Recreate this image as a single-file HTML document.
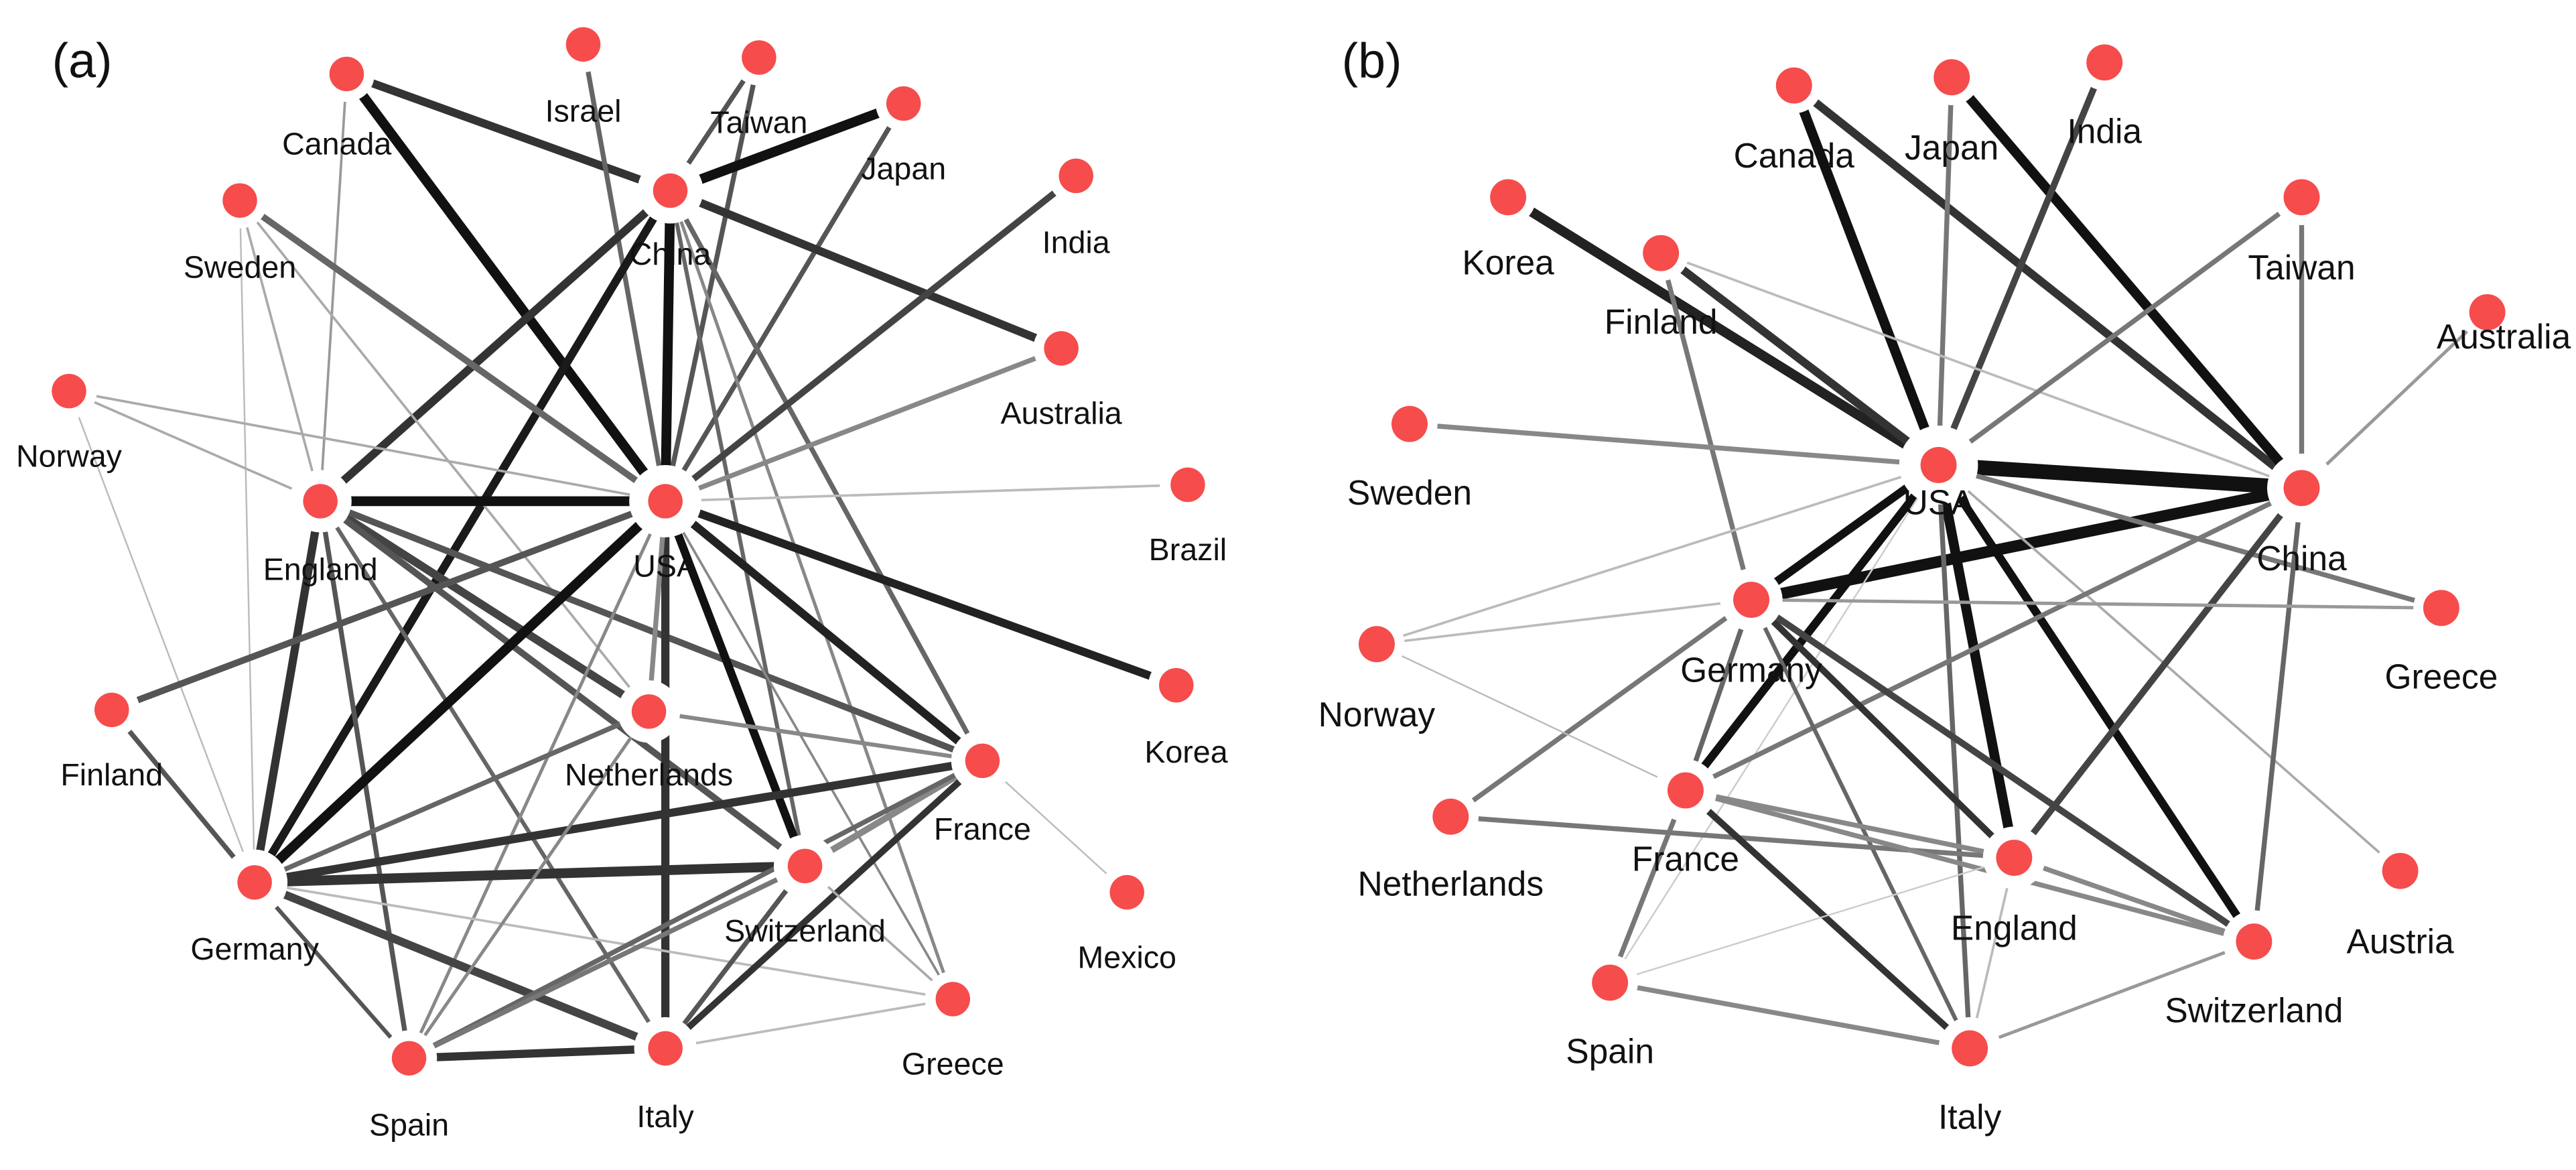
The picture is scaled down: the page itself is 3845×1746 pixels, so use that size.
<!DOCTYPE html>
<html><head><meta charset="utf-8"><style>
html,body{margin:0;padding:0;background:#fff;}
svg{display:block;}
text{font-family:"Liberation Sans",sans-serif;fill:#111;text-anchor:middle;}
</style></head><body>
<svg width="3845" height="1746" viewBox="0 0 1568 712" xmlns="http://www.w3.org/2000/svg">
<g stroke-linecap="butt">
<!-- (a) edges -->
<line x1="211" y1="45" x2="405" y2="305" stroke="#111" stroke-width="6"/>
<line x1="211" y1="45" x2="408" y2="116" stroke="#333" stroke-width="5"/>
<line x1="211" y1="45" x2="195" y2="305" stroke="#999" stroke-width="1.5"/>
<line x1="355" y1="27" x2="405" y2="305" stroke="#666" stroke-width="3"/>
<line x1="462" y1="35" x2="408" y2="116" stroke="#555" stroke-width="3"/>
<line x1="462" y1="35" x2="405" y2="305" stroke="#555" stroke-width="3"/>
<line x1="550" y1="63" x2="408" y2="116" stroke="#111" stroke-width="6"/>
<line x1="550" y1="63" x2="405" y2="305" stroke="#555" stroke-width="3"/>
<line x1="408" y1="116" x2="646" y2="212" stroke="#333" stroke-width="5"/>
<line x1="408" y1="116" x2="405" y2="305" stroke="#111" stroke-width="6"/>
<line x1="408" y1="116" x2="195" y2="305" stroke="#333" stroke-width="5"/>
<line x1="408" y1="116" x2="155" y2="537" stroke="#1a1a1a" stroke-width="5"/>
<line x1="408" y1="116" x2="598" y2="463" stroke="#666" stroke-width="3"/>
<line x1="408" y1="116" x2="580" y2="608" stroke="#888" stroke-width="2"/>
<line x1="408" y1="116" x2="490" y2="527" stroke="#666" stroke-width="2.5"/>
<line x1="655" y1="107" x2="405" y2="305" stroke="#444" stroke-width="4"/>
<line x1="146" y1="122" x2="405" y2="305" stroke="#666" stroke-width="4"/>
<line x1="146" y1="122" x2="195" y2="305" stroke="#aaa" stroke-width="1.5"/>
<line x1="146" y1="122" x2="395" y2="433" stroke="#aaa" stroke-width="1.5"/>
<line x1="146" y1="122" x2="155" y2="537" stroke="#bbb" stroke-width="1"/>
<line x1="646" y1="212" x2="405" y2="305" stroke="#888" stroke-width="3"/>
<line x1="42" y1="238" x2="405" y2="305" stroke="#aaa" stroke-width="1.5"/>
<line x1="42" y1="238" x2="195" y2="305" stroke="#aaa" stroke-width="1.5"/>
<line x1="42" y1="238" x2="155" y2="537" stroke="#bbb" stroke-width="1"/>
<line x1="195" y1="305" x2="405" y2="305" stroke="#111" stroke-width="6"/>
<line x1="195" y1="305" x2="155" y2="537" stroke="#333" stroke-width="5"/>
<line x1="195" y1="305" x2="395" y2="433" stroke="#444" stroke-width="5"/>
<line x1="195" y1="305" x2="490" y2="527" stroke="#555" stroke-width="4"/>
<line x1="195" y1="305" x2="598" y2="463" stroke="#555" stroke-width="4"/>
<line x1="195" y1="305" x2="249" y2="644" stroke="#555" stroke-width="3"/>
<line x1="195" y1="305" x2="405" y2="638" stroke="#666" stroke-width="2.5"/>
<line x1="405" y1="305" x2="723" y2="295" stroke="#bbb" stroke-width="1.5"/>
<line x1="405" y1="305" x2="716" y2="417" stroke="#222" stroke-width="5"/>
<line x1="405" y1="305" x2="68" y2="432" stroke="#555" stroke-width="4"/>
<line x1="405" y1="305" x2="155" y2="537" stroke="#111" stroke-width="6"/>
<line x1="405" y1="305" x2="490" y2="527" stroke="#111" stroke-width="5"/>
<line x1="405" y1="305" x2="598" y2="463" stroke="#222" stroke-width="5"/>
<line x1="405" y1="305" x2="405" y2="638" stroke="#333" stroke-width="5"/>
<line x1="405" y1="305" x2="395" y2="433" stroke="#888" stroke-width="3"/>
<line x1="405" y1="305" x2="249" y2="644" stroke="#888" stroke-width="2"/>
<line x1="405" y1="305" x2="580" y2="608" stroke="#888" stroke-width="1.5"/>
<line x1="68" y1="432" x2="155" y2="537" stroke="#555" stroke-width="3"/>
<line x1="155" y1="537" x2="598" y2="463" stroke="#333" stroke-width="5"/>
<line x1="155" y1="537" x2="490" y2="527" stroke="#333" stroke-width="6"/>
<line x1="155" y1="537" x2="395" y2="433" stroke="#666" stroke-width="3"/>
<line x1="155" y1="537" x2="405" y2="638" stroke="#444" stroke-width="5"/>
<line x1="155" y1="537" x2="249" y2="644" stroke="#555" stroke-width="2.5"/>
<line x1="155" y1="537" x2="580" y2="608" stroke="#bbb" stroke-width="1.5"/>
<line x1="395" y1="433" x2="598" y2="463" stroke="#888" stroke-width="2.5"/>
<line x1="395" y1="433" x2="249" y2="644" stroke="#888" stroke-width="2"/>
<line x1="598" y1="463" x2="490" y2="527" stroke="#888" stroke-width="4"/>
<line x1="598" y1="463" x2="405" y2="638" stroke="#333" stroke-width="4"/>
<line x1="598" y1="463" x2="249" y2="644" stroke="#666" stroke-width="3"/>
<line x1="598" y1="463" x2="686" y2="543" stroke="#bbb" stroke-width="1"/>
<line x1="490" y1="527" x2="249" y2="644" stroke="#777" stroke-width="3"/>
<line x1="490" y1="527" x2="405" y2="638" stroke="#555" stroke-width="3"/>
<line x1="490" y1="527" x2="580" y2="608" stroke="#aaa" stroke-width="1.5"/>
<line x1="249" y1="644" x2="405" y2="638" stroke="#333" stroke-width="5"/>
<line x1="405" y1="638" x2="580" y2="608" stroke="#bbb" stroke-width="1.5"/>
<!-- (b) edges -->
<line x1="1092" y1="52" x2="1180" y2="283" stroke="#111" stroke-width="6"/>
<line x1="1092" y1="52" x2="1401" y2="297" stroke="#333" stroke-width="5"/>
<line x1="1188" y1="47" x2="1180" y2="283" stroke="#777" stroke-width="3"/>
<line x1="1188" y1="47" x2="1401" y2="297" stroke="#111" stroke-width="6"/>
<line x1="1281" y1="38" x2="1180" y2="283" stroke="#444" stroke-width="4"/>
<line x1="918" y1="120" x2="1180" y2="283" stroke="#222" stroke-width="6"/>
<line x1="1011" y1="154" x2="1180" y2="283" stroke="#333" stroke-width="5"/>
<line x1="1011" y1="154" x2="1066" y2="365" stroke="#777" stroke-width="3"/>
<line x1="1011" y1="154" x2="1401" y2="297" stroke="#bbb" stroke-width="1.5"/>
<line x1="1401" y1="120" x2="1180" y2="283" stroke="#777" stroke-width="3"/>
<line x1="1401" y1="120" x2="1401" y2="297" stroke="#777" stroke-width="3"/>
<line x1="1514" y1="190" x2="1401" y2="297" stroke="#999" stroke-width="2"/>
<line x1="858" y1="258" x2="1180" y2="283" stroke="#888" stroke-width="3"/>
<line x1="1180" y1="283" x2="1401" y2="297" stroke="#111" stroke-width="9"/>
<line x1="1066" y1="365" x2="1401" y2="297" stroke="#111" stroke-width="7"/>
<line x1="1180" y1="283" x2="1486" y2="370" stroke="#777" stroke-width="3"/>
<line x1="1180" y1="283" x2="1066" y2="365" stroke="#111" stroke-width="5"/>
<line x1="1180" y1="283" x2="1026" y2="481" stroke="#111" stroke-width="5"/>
<line x1="1180" y1="283" x2="1226" y2="522" stroke="#111" stroke-width="6"/>
<line x1="1180" y1="283" x2="1372" y2="573" stroke="#111" stroke-width="5"/>
<line x1="1180" y1="283" x2="1199" y2="638" stroke="#666" stroke-width="3"/>
<line x1="1180" y1="283" x2="838" y2="392" stroke="#bbb" stroke-width="1.5"/>
<line x1="1180" y1="283" x2="980" y2="598" stroke="#ccc" stroke-width="1"/>
<line x1="1180" y1="283" x2="1461" y2="530" stroke="#aaa" stroke-width="1.5"/>
<line x1="1401" y1="297" x2="1026" y2="481" stroke="#777" stroke-width="3"/>
<line x1="1401" y1="297" x2="1226" y2="522" stroke="#444" stroke-width="4"/>
<line x1="1401" y1="297" x2="1372" y2="573" stroke="#666" stroke-width="3"/>
<line x1="883" y1="497" x2="1066" y2="365" stroke="#777" stroke-width="3"/>
<line x1="1066" y1="365" x2="1486" y2="370" stroke="#999" stroke-width="2"/>
<line x1="838" y1="392" x2="1066" y2="365" stroke="#bbb" stroke-width="1.5"/>
<line x1="838" y1="392" x2="1026" y2="481" stroke="#bbb" stroke-width="1"/>
<line x1="1066" y1="365" x2="1026" y2="481" stroke="#666" stroke-width="3"/>
<line x1="1066" y1="365" x2="1226" y2="522" stroke="#333" stroke-width="4"/>
<line x1="1066" y1="365" x2="1372" y2="573" stroke="#444" stroke-width="4"/>
<line x1="1066" y1="365" x2="1199" y2="638" stroke="#666" stroke-width="2.5"/>
<line x1="980" y1="598" x2="1026" y2="481" stroke="#777" stroke-width="3"/>
<line x1="883" y1="497" x2="1226" y2="522" stroke="#777" stroke-width="3"/>
<line x1="1026" y1="481" x2="1226" y2="522" stroke="#888" stroke-width="3"/>
<line x1="1026" y1="481" x2="1372" y2="573" stroke="#888" stroke-width="3"/>
<line x1="1026" y1="481" x2="1199" y2="638" stroke="#333" stroke-width="4"/>
<line x1="980" y1="598" x2="1226" y2="522" stroke="#ccc" stroke-width="1"/>
<line x1="980" y1="598" x2="1199" y2="638" stroke="#888" stroke-width="3"/>
<line x1="1226" y1="522" x2="1372" y2="573" stroke="#888" stroke-width="3"/>
<line x1="1226" y1="522" x2="1199" y2="638" stroke="#bbb" stroke-width="1.5"/>
<line x1="1199" y1="638" x2="1372" y2="573" stroke="#999" stroke-width="2"/>
</g>
<g fill="#fff">
<circle cx="211" cy="45" r="17"/><circle cx="355" cy="27" r="17"/><circle cx="462" cy="35" r="17"/><circle cx="550" cy="63" r="17"/><circle cx="408" cy="116" r="20"/><circle cx="655" cy="107" r="17"/><circle cx="146" cy="122" r="17"/><circle cx="646" cy="212" r="17"/><circle cx="42" cy="238" r="17"/><circle cx="195" cy="305" r="19"/><circle cx="405" cy="305" r="22"/><circle cx="723" cy="295" r="17"/><circle cx="68" cy="432" r="17"/><circle cx="395" cy="433" r="19"/><circle cx="716" cy="417" r="17"/><circle cx="598" cy="463" r="19"/><circle cx="490" cy="527" r="19"/><circle cx="686" cy="543" r="17"/><circle cx="155" cy="537" r="20"/><circle cx="580" cy="608" r="17"/><circle cx="249" cy="644" r="17"/><circle cx="405" cy="638" r="19"/>
<circle cx="1092" cy="52" r="17"/><circle cx="1188" cy="47" r="17"/><circle cx="1281" cy="38" r="17"/><circle cx="918" cy="120" r="17"/><circle cx="1401" cy="120" r="17"/><circle cx="1011" cy="154" r="17"/><circle cx="1514" cy="190" r="17"/><circle cx="858" cy="258" r="17"/><circle cx="1180" cy="283" r="24"/><circle cx="1401" cy="297" r="21"/><circle cx="1066" cy="365" r="19"/><circle cx="1486" cy="370" r="17"/><circle cx="838" cy="392" r="17"/><circle cx="1026" cy="481" r="19"/><circle cx="883" cy="497" r="17"/><circle cx="1226" cy="522" r="19"/><circle cx="1461" cy="530" r="17"/><circle cx="1372" cy="573" r="19"/><circle cx="980" cy="598" r="17"/><circle cx="1199" cy="638" r="19"/>
</g>
<g fill="#f64c4c">
<circle cx="211" cy="45" r="10.5"/><circle cx="355" cy="27" r="10.5"/><circle cx="462" cy="35" r="10.5"/><circle cx="550" cy="63" r="10.5"/><circle cx="408" cy="116" r="10.5"/><circle cx="655" cy="107" r="10.5"/><circle cx="146" cy="122" r="10.5"/><circle cx="646" cy="212" r="10.5"/><circle cx="42" cy="238" r="10.5"/><circle cx="195" cy="305" r="10.5"/><circle cx="405" cy="305" r="10.5"/><circle cx="723" cy="295" r="10.5"/><circle cx="68" cy="432" r="10.5"/><circle cx="395" cy="433" r="10.5"/><circle cx="716" cy="417" r="10.5"/><circle cx="598" cy="463" r="10.5"/><circle cx="490" cy="527" r="10.5"/><circle cx="686" cy="543" r="10.5"/><circle cx="155" cy="537" r="10.5"/><circle cx="580" cy="608" r="10.5"/><circle cx="249" cy="644" r="10.5"/><circle cx="405" cy="638" r="10.5"/>
<circle cx="1092" cy="52" r="11"/><circle cx="1188" cy="47" r="11"/><circle cx="1281" cy="38" r="11"/><circle cx="918" cy="120" r="11"/><circle cx="1401" cy="120" r="11"/><circle cx="1011" cy="154" r="11"/><circle cx="1514" cy="190" r="11"/><circle cx="858" cy="258" r="11"/><circle cx="1180" cy="283" r="11"/><circle cx="1401" cy="297" r="11"/><circle cx="1066" cy="365" r="11"/><circle cx="1486" cy="370" r="11"/><circle cx="838" cy="392" r="11"/><circle cx="1026" cy="481" r="11"/><circle cx="883" cy="497" r="11"/><circle cx="1226" cy="522" r="11"/><circle cx="1461" cy="530" r="11"/><circle cx="1372" cy="573" r="11"/><circle cx="980" cy="598" r="11"/><circle cx="1199" cy="638" r="11"/>
</g>
<text x="50" y="47" style="font-size:30px;">(a)</text>
<text x="835" y="47" style="font-size:30px;">(b)</text>
<g style="font-size:19px;">
<text x="205" y="94">Canada</text><text x="355" y="74">Israel</text><text x="462" y="81">Taiwan</text><text x="550" y="109">Japan</text><text x="408" y="161">China</text><text x="655" y="154">India</text><text x="146" y="169">Sweden</text><text x="646" y="258">Australia</text><text x="42" y="284">Norway</text><text x="195" y="353">England</text><text x="405" y="351">USA</text><text x="723" y="341">Brazil</text><text x="68" y="478">Finland</text><text x="395" y="478">Netherlands</text><text x="722" y="464">Korea</text><text x="598" y="511">France</text><text x="490" y="573">Switzerland</text><text x="686" y="589">Mexico</text><text x="155" y="584">Germany</text><text x="580" y="654">Greece</text><text x="249" y="691">Spain</text><text x="405" y="686">Italy</text>
</g>
<g style="font-size:21px;">
<text x="1092" y="102">Canada</text><text x="1188" y="97">Japan</text><text x="1281" y="87">India</text><text x="918" y="167">Korea</text><text x="1401" y="170">Taiwan</text><text x="1011" y="203">Finland</text><text x="1524" y="212">Australia</text><text x="858" y="307">Sweden</text><text x="1180" y="313">USA</text><text x="1401" y="347">China</text><text x="1066" y="415">Germany</text><text x="1486" y="419">Greece</text><text x="838" y="442">Norway</text><text x="1026" y="530">France</text><text x="883" y="545">Netherlands</text><text x="1226" y="572">England</text><text x="1461" y="580">Austria</text><text x="1372" y="622">Switzerland</text><text x="980" y="647">Spain</text><text x="1199" y="687">Italy</text>
</g>
</svg>
</body></html>
